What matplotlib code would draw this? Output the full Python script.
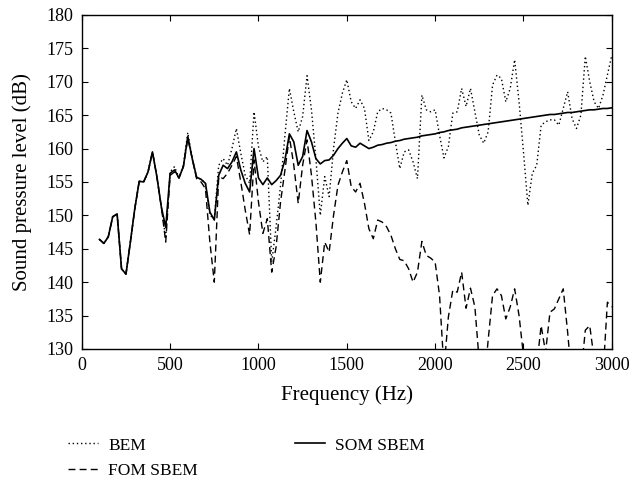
import matplotlib.pyplot as plt
import numpy as np

plt.rcParams['font.family'] = ['Liberation Serif', 'DejaVu Serif']

freq = np.arange(100, 3001, 25)

# BEM (dotted)
bem = [146.4, 145.8, 146.8, 149.8, 150.2, 142.0, 141.2, 146.0, 151.0, 155.1,
       155.0, 156.5, 159.5, 155.8, 151.3, 146.5, 156.5, 157.3, 155.6, 157.5,
       162.4, 158.5, 155.7, 155.4, 154.8, 150.0, 149.5, 157.5, 158.5, 157.5,
       160.0, 163.0, 159.3, 156.0, 154.8, 165.5, 160.3, 158.0, 158.8, 143.0,
       148.3, 154.5, 162.0, 169.0, 165.5, 162.5, 164.8, 170.9, 165.8, 158.5,
       150.0, 155.8, 152.8, 160.0, 165.3, 168.3, 170.3, 167.0, 166.0, 167.3,
       166.0, 161.2, 162.5, 165.5, 166.0, 165.8, 165.3, 161.0, 157.0, 159.5,
       159.8, 158.0, 155.5, 168.0, 165.8, 165.5, 165.8, 162.0, 158.6, 160.3,
       165.3, 165.5, 169.0, 166.3, 169.0, 165.5, 162.0, 160.8, 162.5, 169.5,
       171.0, 170.5, 167.0, 169.0, 173.3, 167.0, 159.5, 151.5, 156.3, 157.5,
       163.5, 164.0, 164.3, 164.3, 163.5, 166.0, 168.5, 164.5, 163.0, 165.0,
       173.8, 170.0, 167.0, 166.0, 168.0, 171.0, 174.0]

# FOM SBEM (dashed)
fom = [146.4, 145.8, 146.8, 149.8, 150.2, 142.0, 141.2, 146.0, 151.0, 155.1,
       155.0, 156.5, 159.5, 155.8, 151.3, 146.0, 156.0, 156.5, 155.6, 157.3,
       161.5, 158.5, 155.5, 155.0, 154.0, 146.0, 140.0, 155.8, 155.5, 156.3,
       157.5, 158.8, 155.0, 150.8, 147.1, 158.3, 152.0, 147.3, 149.5, 141.5,
       145.3, 152.0, 156.8, 161.8, 157.5, 151.8, 157.5, 161.3, 156.0, 149.0,
       140.0, 146.0, 144.5, 150.0, 154.5, 156.5, 158.2, 154.3, 153.5, 154.8,
       151.8, 148.0, 146.5, 149.3, 149.0, 148.3, 147.0, 145.0, 143.4, 143.2,
       142.0, 140.0, 141.5, 146.1, 144.0, 143.6, 143.0, 138.0, 127.0, 134.8,
       138.8, 138.5, 141.5, 136.1, 139.1, 136.3, 128.0, 124.0, 131.3, 138.0,
       139.0, 138.0, 134.5, 136.3, 139.0, 135.0, 129.0, 122.0, 120.0, 127.5,
       133.5, 129.5, 135.5, 136.0, 137.5, 139.0, 132.5, 125.0, 122.0, 126.0,
       132.8, 133.5, 128.5, 124.0, 126.0, 137.0, 136.3]

# SOM SBEM (solid)
som = [146.4, 145.8, 146.8, 149.8, 150.2, 142.0, 141.2, 146.0, 151.0, 155.1,
       155.0, 156.5, 159.5, 155.8, 151.3, 148.2, 156.3, 156.8, 155.6, 157.3,
       161.8, 158.5, 155.7, 155.4, 154.8, 150.5, 149.3, 156.0, 157.5, 157.0,
       158.0, 159.5, 156.8, 154.8, 153.5, 160.0, 155.6, 154.6, 155.6, 154.6,
       155.2, 156.0, 158.3, 162.2, 161.0, 157.5, 158.8, 162.7, 161.0, 158.5,
       157.7, 158.2, 158.3, 159.0, 160.0, 160.8, 161.5, 160.4, 160.2, 160.8,
       160.4, 160.0, 160.2, 160.5, 160.6, 160.8, 160.9, 161.1, 161.2, 161.4,
       161.5, 161.6, 161.7, 161.9, 162.0, 162.1, 162.2, 162.4, 162.5, 162.7,
       162.8, 162.9, 163.1, 163.2, 163.3, 163.4, 163.5, 163.6, 163.7, 163.8,
       163.9, 164.0, 164.1, 164.2, 164.3, 164.4, 164.5, 164.6, 164.7, 164.8,
       164.9, 165.0, 165.1, 165.1, 165.2, 165.3, 165.4, 165.4, 165.5, 165.6,
       165.7, 165.8, 165.8, 165.9, 166.0, 166.0, 166.1]

fig = plt.figure(figsize=(6.34, 4.82), dpi=100)
ax = fig.add_axes([0.129, 0.276, 0.836, 0.693])

ax.plot(freq, bem, color='black', lw=1.0, linestyle=(0, (1, 2)), label='BEM')
ax.plot(freq, fom, color='black', lw=1.0, linestyle=(0, (5, 3)), label='FOM SBEM')
ax.plot(freq, som, color='black', lw=1.2, linestyle='-', label='SOM SBEM')

ax.set_xlim(0, 3000)
ax.set_ylim(130, 180)
ax.set_xticks(np.arange(0, 3001, 500))
ax.set_yticks(np.arange(130, 181, 5))
ax.tick_params(direction='in', top=True, right=True, length=4, labelsize=13, pad=6)
for s in ax.spines.values():
    s.set_linewidth(1.0)

ax.set_xlabel('Frequency (Hz)', fontsize=15, labelpad=8)
ax.set_ylabel('Sound pressure level (dB)', fontsize=15, labelpad=10)

ax.legend(loc='upper left', bbox_to_anchor=(0.083, 0.125), bbox_transform=fig.transFigure,
          ncol=2, frameon=False, fontsize=12.5, handlelength=1.7, handletextpad=0.6,
          columnspacing=5.6, labelspacing=0.55)

fig.savefig('out.png', dpi=100)
